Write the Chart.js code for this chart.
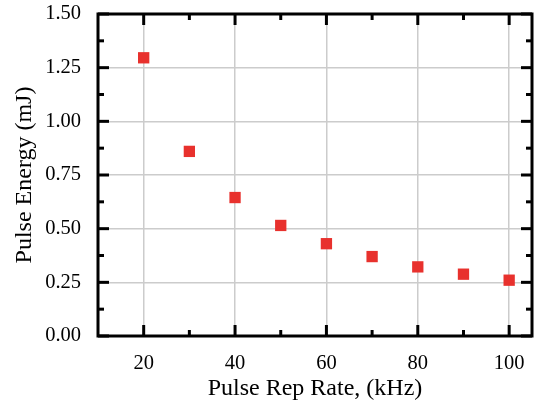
<!DOCTYPE html>
<html>
<head>
<meta charset="utf-8">
<script src="https://cdn.jsdelivr.net/npm/chart.js@4.4.0/dist/chart.umd.min.js"></script>
<style>
  body { margin: 0; background: #fff; }
  #wrap { width: 541px; height: 401px; }
</style>
</head>
<body>
<div id="wrap"><canvas id="myChart" width="541" height="401"></canvas></div>
<script>
// pulse rep rate (kHz) vs pulse energy (mJ)
const repRate = [20, 30, 40, 50, 60, 70, 80, 90, 100];
const pulseEnergy = [1.296, 0.86, 0.645, 0.515, 0.43, 0.37, 0.322, 0.288, 0.26];

const xTicks = [20, 40, 60, 80, 100];
const xMinor = [30, 50, 70, 90];
const yTicks = [0, 0.25, 0.5, 0.75, 1.0, 1.25, 1.5];
const yMinor = [0.125, 0.375, 0.625, 0.875, 1.125, 1.375];

const fontFam = "'Liberation Serif', 'Times New Roman', serif";

// box frame + inward ticks on all four sides
const frameTicks = {
  id: "frameTicks",
  afterDraw(chart) {
    const { ctx, chartArea: a, scales } = chart;
    const x = scales.x, y = scales.y;
    ctx.save();
    ctx.strokeStyle = "#000";
    ctx.lineWidth = 3;
    ctx.lineCap = "square";
    ctx.strokeRect(a.left, a.top, a.right - a.left, a.bottom - a.top);
    ctx.lineCap = "butt";
    const tick = (x1, y1, x2, y2) => {
      ctx.beginPath();
      ctx.moveTo(x1, y1);
      ctx.lineTo(x2, y2);
      ctx.stroke();
    };
    xTicks.forEach((v) => {
      const px = x.getPixelForValue(v);
      tick(px, a.bottom, px, a.bottom - 11);
      tick(px, a.top, px, a.top + 11);
    });
    xMinor.forEach((v) => {
      const px = x.getPixelForValue(v);
      tick(px, a.bottom, px, a.bottom - 6);
      tick(px, a.top, px, a.top + 6);
    });
    yTicks.forEach((v) => {
      const py = y.getPixelForValue(v);
      tick(a.left, py, a.left + 11, py);
      tick(a.right, py, a.right - 11, py);
    });
    yMinor.forEach((v) => {
      const py = y.getPixelForValue(v);
      tick(a.left, py, a.left + 6, py);
      tick(a.right, py, a.right - 6, py);
    });
    ctx.restore();
  },
};

const config = {
  type: "scatter",
  data: {
    datasets: [
      {
        label: "Pulse Energy",
        data: repRate.map((r, i) => ({ x: r, y: pulseEnergy[i] })),
        backgroundColor: "#e8312d",
        borderColor: "#e8312d",
        borderWidth: 0,
        pointStyle: "rect",
        pointRadius: 8,
        pointHoverRadius: 8,
      },
    ],
  },
  options: {
    responsive: false,
    animation: false,
    layout: { padding: { left: 0, top: 0, right: 9, bottom: 0 } },
    plugins: { legend: { display: false }, tooltip: { enabled: false } },
    scales: {
      x: {
        type: "linear",
        min: 10,
        max: 105,
        afterBuildTicks(scale) {
          scale.ticks = xTicks.map((v) => ({ value: v }));
        },
        afterFit(scale) {
          scale.height = 65;
        },
        border: { display: false },
        grid: { color: "#cccccc", lineWidth: 1.5, drawTicks: false },
        ticks: {
          color: "#000",
          padding: 15,
          font: { family: fontFam, size: 20.5 },
        },
        title: {
          display: true,
          text: "Pulse Rep Rate, (kHz)",
          color: "#000",
          padding: { top: 0, bottom: 0 },
          font: { family: fontFam, size: 24, lineHeight: 1 },
        },
      },
      y: {
        type: "linear",
        min: 0,
        max: 1.5,
        afterBuildTicks(scale) {
          scale.ticks = yTicks.map((v) => ({ value: v }));
        },
        afterFit(scale) {
          scale.width = 98;
          scale.paddingTop = 14;
          scale.paddingBottom = 0;
        },
        border: { display: false },
        grid: { color: "#cccccc", lineWidth: 1.5, drawTicks: false },
        ticks: {
          color: "#000",
          padding: 17,
          font: { family: fontFam, size: 20.5 },
          callback: (v) => v.toFixed(2),
        },
        title: {
          display: true,
          text: "Pulse Energy (mJ)",
          color: "#000",
          padding: { top: 13, bottom: 0 },
          font: { family: fontFam, size: 24, lineHeight: 1 },
        },
      },
    },
  },
  plugins: [frameTicks],
};

new Chart(document.getElementById("myChart"), config);
</script>
</body>
</html>
